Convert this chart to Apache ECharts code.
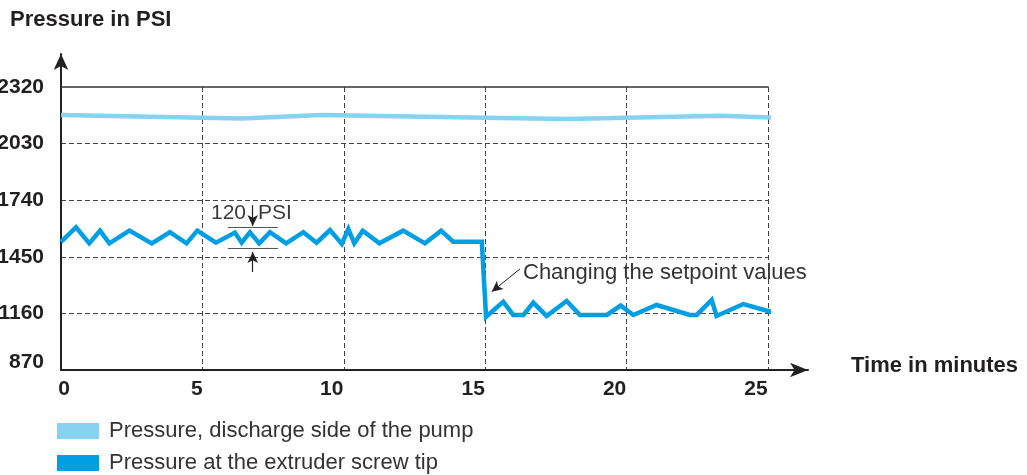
<!DOCTYPE html>
<html><head><meta charset="utf-8">
<script src="https://cdn.jsdelivr.net/npm/echarts@6/dist/echarts.min.js"></script>
<style>html,body{margin:0;padding:0;background:#fff}#c{width:1027px;height:475px}</style>
</head><body><div id="c"></div>
<script>
// ---- data ----
const yTicks = [870, 1160, 1450, 1740, 2030, 2320];
const xTicks = [0, 5, 10, 15, 20, 25];
const seriesNames = ['Pressure, discharge side of the pump', 'Pressure at the extruder screw tip'];
const pumpTime = [0, 5.02, 6.39, 9.22, 12.87, 14.99, 17.88, 20.0, 23.3, 25.66];
const pumpPSI  = [2177, 2163, 2158, 2177, 2168, 2163, 2156, 2163, 2173, 2161];
const tipTime = [0, 0.53, 1.0, 1.38, 1.71, 2.42, 3.21, 3.85, 4.44, 4.82, 5.48, 6.15, 6.39, 6.68, 7.01, 7.39,
  7.96, 8.57, 9.04, 9.51, 9.93, 10.16, 10.37, 10.67, 11.26, 12.10, 12.87, 13.44, 13.87, 14.88, 15.03, 15.64,
  15.99, 16.35, 16.70, 17.17, 17.88, 18.35, 19.30, 19.79, 20.24, 21.06, 22.24, 22.48, 23.01, 23.18, 24.13, 25.48];
const tipPSI = [1527, 1601, 1519, 1584, 1519, 1584, 1519, 1576, 1519, 1584, 1522, 1574, 1522, 1576, 1519, 1576,
  1519, 1576, 1522, 1587, 1516, 1592, 1519, 1584, 1519, 1584, 1519, 1584, 1527, 1527, 1143, 1220,
  1152, 1152, 1215, 1147, 1224, 1152, 1152, 1200, 1152, 1203, 1152, 1152, 1229, 1147, 1208, 1152];
// annotation: 120 PSI band and setpoint arrow (data units)
const bandHigh = 1600, bandLow = 1493, bandX = [5.9, 7.67], bandArrowX = 6.78;
const setpointArrow = [[16.23, 1388], [15.23, 1271]];

const FONT = '"Liberation Sans", Arial, Helvetica, sans-serif';
const ink = '#231f20';
const zip = (a, b) => a.map((v, i) => [v, b[i]]);

const chart = echarts.init(document.getElementById('c'), null, {renderer: 'canvas'});
const lblFont = {fontFamily: FONT, fontSize: 21, fontWeight: 'bold', color: ink};
const annLine = {color: '#555', width: 1.2, type: 'solid'};
const arrowLine = {color: '#222', width: 1.2, type: 'solid'};

chart.setOption({
  animation: false,
  backgroundColor: '#fff',
  grid: [
    {left: 61, top: 87, width: 707, height: 283, outerBoundsMode: 'none', containLabel: false},
    {left: 61, top: 54, width: 747, height: 316, outerBoundsMode: 'none', containLabel: false}
  ],
  xAxis: [
    {type: 'value', gridIndex: 0, min: xTicks[0], max: xTicks[xTicks.length - 1], interval: 5,
      axisLine: {show: false}, axisTick: {show: false},
      splitLine: {show: true, showMinLine: false, lineStyle: {color: '#444', type: [5, 3], width: 1}},
      axisLabel: {margin: 9, ...lblFont,
        formatter: v => (v === 0 ? '{z|' : v === 5 ? '{f|' : '{t|') + v + '}',
        rich: {
          z: {...lblFont, padding: [0, 0, 0, 6]},
          f: {...lblFont, padding: [0, 11, 0, 0]},
          t: {...lblFont, padding: [0, 24, 0, 0]}
        }}},
    {type: 'value', gridIndex: 0, position: 'top', min: 0, max: 1,
      axisLine: {show: true, lineStyle: {color: '#333', width: 1.5}},
      axisTick: {show: false}, axisLabel: {show: false}, splitLine: {show: false}},
    {type: 'value', gridIndex: 1, min: 0, max: 1,
      axisLine: {show: true, lineStyle: {color: '#222', width: 2}, symbol: ['none', 'arrow'], symbolSize: [11, 18]},
      axisTick: {show: false}, axisLabel: {show: false}, splitLine: {show: false}}
  ],
  yAxis: [
    {type: 'value', gridIndex: 0, min: yTicks[0], max: yTicks[yTicks.length - 1], interval: 290,
      axisLine: {show: false}, axisTick: {show: false},
      splitLine: {show: true, showMinLine: false, showMaxLine: false, lineStyle: {color: '#444', type: [5, 3], width: 1}},
      axisLabel: {margin: 17, ...lblFont,
        formatter: v => (v === 870 ? '{lo|' : '{n|') + v + '}',
        rich: {lo: {...lblFont, padding: [0, 0, 16, 0]}, n: {...lblFont}}}},
    {type: 'value', gridIndex: 1, min: 0, max: 1,
      axisLine: {show: true, lineStyle: {color: '#222', width: 2}, symbol: ['none', 'arrow'], symbolSize: [11, 16]},
      axisTick: {show: false}, axisLabel: {show: false}, splitLine: {show: false}}
  ],
  legend: {
    orient: 'vertical', left: 57, top: 420, padding: 0, itemWidth: 42, itemHeight: 16, itemGap: 10,
    icon: 'rect', data: seriesNames,
    textStyle: {fontFamily: FONT, fontSize: 22, color: '#333', padding: [0, 0, 0, 5]}
  },
  series: [
    {name: seriesNames[0], type: 'line', xAxisIndex: 0, yAxisIndex: 0, data: zip(pumpTime, pumpPSI),
      showSymbol: false, clip: false, color: '#87d1f1',
      lineStyle: {width: 4.5, color: '#87d1f1', join: 'round'}, z: 3},
    {name: seriesNames[1], type: 'line', xAxisIndex: 0, yAxisIndex: 0, data: zip(tipTime, tipPSI),
      showSymbol: false, clip: false, color: '#009fe3',
      lineStyle: {width: 4.5, color: '#009fe3', join: 'miter'}, z: 4,
      markLine: {silent: true, animation: false, symbol: 'none', label: {show: false},
        lineStyle: annLine,
        data: [
          [{coord: [bandX[0], bandHigh]}, {coord: [bandX[1], bandHigh]}],
          [{coord: [bandX[0], bandLow]}, {coord: [bandX[1], bandLow]}],
          [{coord: [bandArrowX, 1715], symbol: 'none', lineStyle: arrowLine}, {coord: [bandArrowX, bandHigh + 8], symbol: 'arrow', symbolSize: [8, 11]}],
          [{coord: [bandArrowX, 1372], symbol: 'none', lineStyle: arrowLine}, {coord: [bandArrowX, bandLow - 18], symbol: 'arrow', symbolSize: [8, 11]}],
          [{coord: setpointArrow[0], symbol: 'none', lineStyle: {color: '#222', width: 1}},
           {coord: setpointArrow[1], symbol: 'arrow', symbolSize: [8, 11]}]
        ]}}
  ],
  graphic: [
    {type: 'text', left: 10, top: 9, style: {text: 'Pressure in PSI', font: 'bold 22px ' + FONT, fill: ink}},
    {type: 'text', left: 851, top: 355, style: {text: 'Time in minutes', font: 'bold 22px ' + FONT, fill: ink}},
    {type: 'text', right: 1027 - 246, top: 203, style: {text: '120', font: '21px ' + FONT, fill: '#3c3c3c'}},
    {type: 'text', left: 258, top: 203, style: {text: 'PSI', font: '21px ' + FONT, fill: '#3c3c3c'}},
    {type: 'text', left: 523, top: 262, style: {text: 'Changing the setpoint values', font: '22px ' + FONT, fill: '#333'}}
  ]
});
</script></body></html>
